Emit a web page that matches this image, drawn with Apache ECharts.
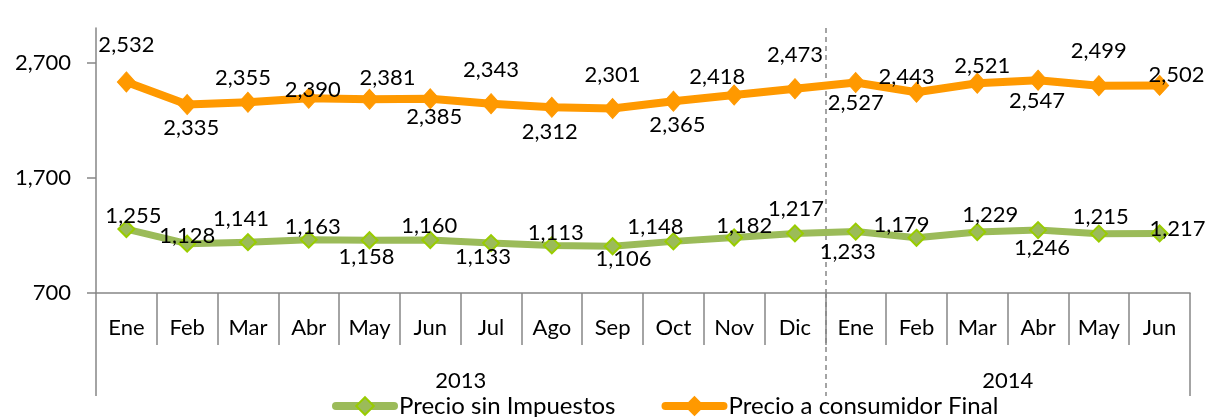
<!DOCTYPE html>
<html>
<head>
<meta charset="utf-8">
<script src="https://cdn.jsdelivr.net/npm/echarts@6/dist/echarts.min.js"></script>
<style>
    html, body { margin: 0; padding: 0; background: #fff; }
    #chart { width: 1208px; height: 417px; }
</style>
</head>
<body>
<div id="chart"></div>
<script>
var months = ['Ene', 'Feb', 'Mar', 'Abr', 'May', 'Jun', 'Jul', 'Ago', 'Sep', 'Oct', 'Nov', 'Dic',
    'Ene', 'Feb', 'Mar', 'Abr', 'May', 'Jun'];
var years = ['2013', '2014'];
var monthsPerYear = [12, 6];
var sinImpuestos = [1255, 1128, 1141, 1163, 1158, 1160, 1133, 1113, 1106, 1148, 1182, 1217,
    1233, 1179, 1229, 1246, 1215, 1217];
var consumidorFinal = [2532, 2335, 2355, 2390, 2381, 2385, 2343, 2312, 2301, 2365, 2418, 2473,
    2527, 2443, 2521, 2547, 2499, 2502];
var yTicks = [700, 1700, 2700];

// where each data label sits relative to its point, [dx, dy]
var greenLabelShift = [[7, -13], [0, -8], [-7, -23], [4, -13], [-3, 17], [-1, -14], [-8, 14], [4, -13],
    [11, 13], [-18, -14], [10, -12], [1, -25], [-8, 20], [-15, -13], [13, -17], [4, 18], [2, -17], [18, -5]];
var orangeLabelShift = [[0, -37], [4, 23], [-5, -24], [4, -8], [18, -21], [4, 18], [0, -34], [-2, 25],
    [0, -34], [4, 24], [-17, -18], [0, -34], [0, 20], [-10, -15], [5, -17], [-1, 21], [0, -35], [17, -10]];

var FONT = 'Lato';
var GRAY = '#868686';

// year level of the axis: half-month steps, boundaryGap false
var yearSlots = [];
var yearEdges = [];
var start = 0;
for (var i = 0; i <= months.length * 2; i++) yearSlots.push('');
for (var y = 0; y < years.length; y++) {
    yearEdges.push(start * 2);
    yearSlots[start * 2 + monthsPerYear[y]] = years[y];
    start += monthsPerYear[y];
}
var lastEdge = start * 2;

function isInnerEdge(idx) {
    return idx > 0 && idx < lastEdge && yearEdges.indexOf(idx) >= 0;
}

function withLabels(values, shifts) {
    return values.map(function (v, i) {
        return { value: v, label: { offset: shifts[i] } };
    });
}

var chart = echarts.init(document.getElementById('chart'));

var option = {
    animation: false,
    textStyle: { fontFamily: FONT },
    grid: { left: 96, right: 18, top: 28, bottom: 124, containLabel: false },
    legend: {
        left: 332,
        top: 394,
        padding: 0,
        itemWidth: 58,
        itemHeight: 22,
        itemGap: 46,
        lineStyle: { width: 8, cap: 'round' },
        textStyle: { fontSize: 24, color: '#000', fontFamily: FONT },
        data: ['Precio sin Impuestos', 'Precio a consumidor Final']
    },
    xAxis: [
        {
            type: 'category',
            data: months,
            boundaryGap: true,
            axisLine: { lineStyle: { color: GRAY, width: 1.5 } },
            axisTick: { show: true, length: 52, lineStyle: { color: GRAY, width: 1.5 } },
            axisLabel: { color: '#000', fontSize: 22, fontFamily: FONT, margin: 35, verticalAlign: 'middle', interval: 0 },
            splitLine: { show: false }
        },
        {
            type: 'category',
            data: yearSlots,
            boundaryGap: false,
            position: 'bottom',
            axisLine: { show: false },
            axisTick: {
                show: true, length: 103,
                interval: function (idx) { return idx === 0 || idx === lastEdge; },
                lineStyle: { color: GRAY, width: 1.5 }
            },
            axisLabel: {
                color: '#000', fontSize: 22, fontFamily: FONT, margin: 88, verticalAlign: 'middle',
                interval: function (idx, val) { return val !== ''; }
            },
            splitLine: { show: false }
        },
        {
            type: 'category',
            data: yearSlots,
            boundaryGap: false,
            position: 'bottom',
            axisLine: { show: false },
            axisTick: {
                show: true, length: 103,
                interval: isInnerEdge,
                lineStyle: { color: GRAY, width: 1.5, type: [5, 4] }
            },
            axisLabel: { show: false },
            splitLine: {
                show: true,
                interval: isInnerEdge,
                lineStyle: { color: GRAY, width: 1.5, type: [5, 4] }
            }
        }
    ],
    yAxis: {
        type: 'value',
        min: 700,
        max: 3000,
        axisLine: { show: true, lineStyle: { color: GRAY, width: 1.5 } },
        axisTick: { show: true, length: 9, customValues: yTicks, lineStyle: { color: GRAY, width: 1.5 } },
        axisLabel: {
            color: '#000', fontSize: 22, fontFamily: FONT, margin: 25,
            customValues: yTicks,
            formatter: function (v) { return v.toLocaleString('en-US'); }
        },
        splitLine: { show: false }
    },
    series: [
        {
            name: 'Precio sin Impuestos',
            type: 'line',
            data: withLabels(sinImpuestos, greenLabelShift),
            symbol: 'diamond',
            symbolSize: 16,
            lineStyle: { color: '#9BBB59', width: 7, cap: 'round', join: 'round' },
            itemStyle: { color: '#9BBB59', borderColor: '#99CC00', borderWidth: 2 },
            label: {
                show: true, position: 'inside', color: '#000', fontSize: 22, fontFamily: FONT,
                formatter: function (p) { return p.value.toLocaleString('en-US'); }
            },
            z: 3
        },
        {
            name: 'Precio a consumidor Final',
            type: 'line',
            data: withLabels(consumidorFinal, orangeLabelShift),
            symbol: 'diamond',
            symbolSize: [18, 20],
            lineStyle: { color: '#FF9900', width: 8, cap: 'round', join: 'round' },
            itemStyle: { color: '#FF9900', borderColor: '#FF9900', borderWidth: 1 },
            label: {
                show: true, position: 'inside', color: '#000', fontSize: 22, fontFamily: FONT,
                formatter: function (p) { return p.value.toLocaleString('en-US'); }
            },
            z: 3
        }
    ]
};

chart.setOption(option);
</script>
</body>
</html>
